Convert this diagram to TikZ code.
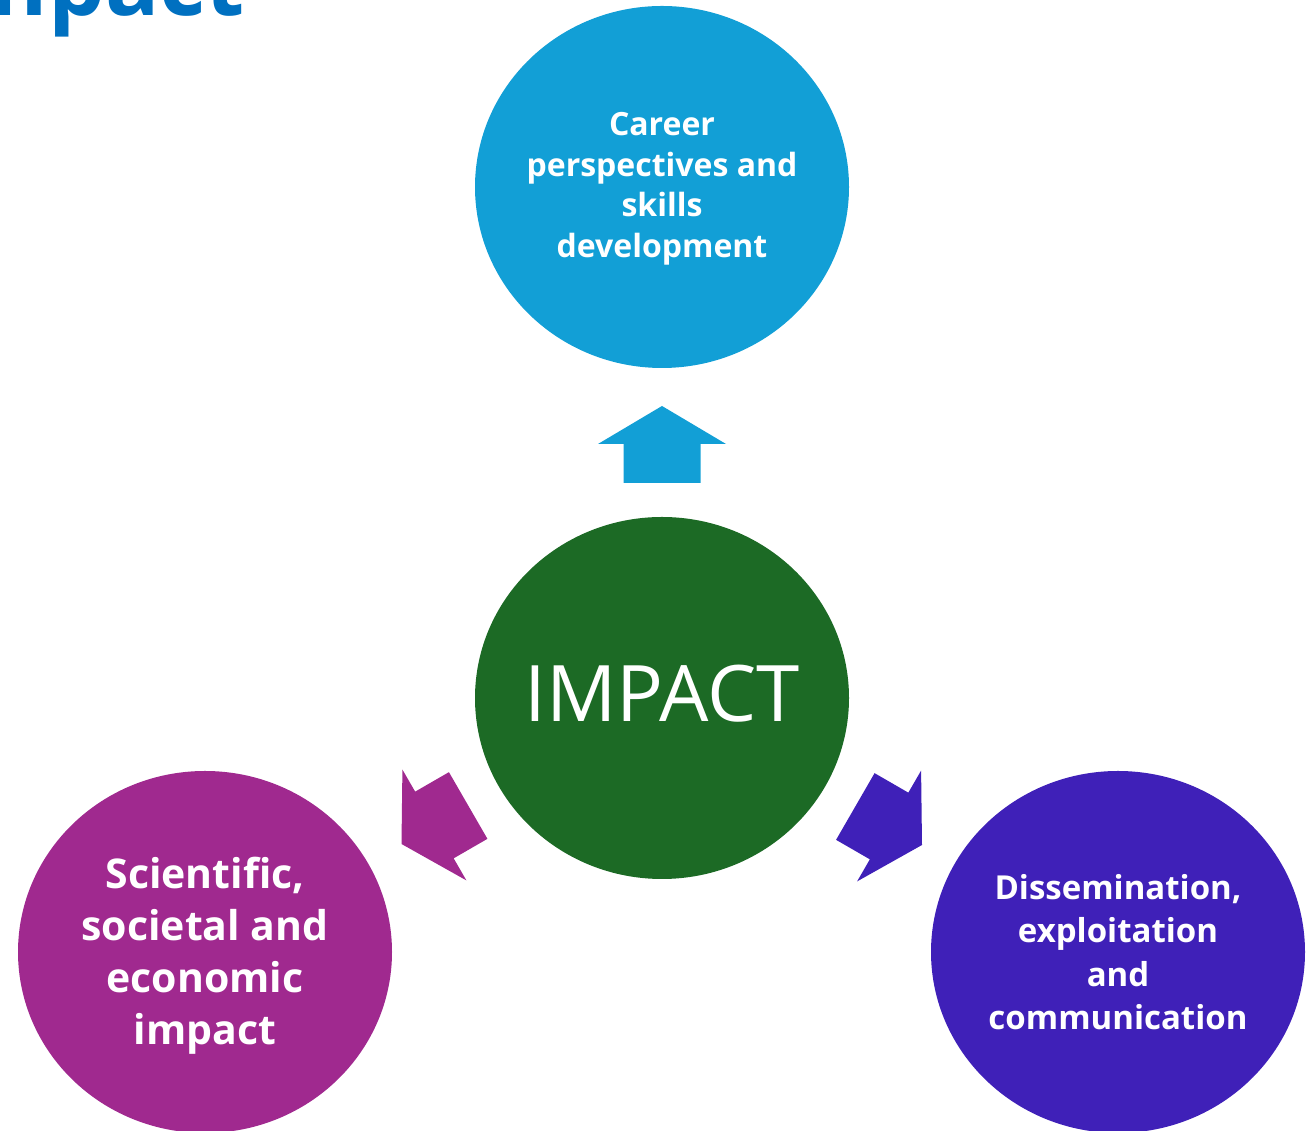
\documentclass[tikz,border=0pt]{standalone}
\usepackage{fontspec}
\setmainfont{Open Sans}
\definecolor{ctop}{RGB}{18,159,214}
\definecolor{cmid}{RGB}{28,106,37}
\definecolor{cleft}{RGB}{160,41,143}
\definecolor{cright}{RGB}{63,32,184}
\definecolor{ctitle}{RGB}{0,112,192}
\begin{document}
\begin{tikzpicture}[x=1pt,y=1pt,
  btext/.style={text=white, align=center, font=\bfseries},
  blockarrow/.pic={\fill (0,0) -- (64,-38) -- (38.5,-38) -- (38.5,-77) -- (-38.5,-77) -- (-38.5,-38) -- (-64,-38) -- cycle;}
]
\useasboundingbox (0,0) rectangle (1309,1131);
\clip (0,0) rectangle (1309,1131);
\fill[ctop] (662,944) ellipse [x radius=187, y radius=181];
\fill[cmid] (662,433) ellipse [x radius=187, y radius=181];
\fill[cleft] (205,179) ellipse [x radius=187, y radius=181];
\fill[cright] (1118,179) ellipse [x radius=187, y radius=181];
\node[btext, font=\bfseries\fontsize{32}{40.5}\selectfont] (top) at (662,942) {Career\\perspectives and\\skills\\development};
\node[text=white, font=\fontsize{78}{90}\selectfont] (mid) at (662,437) {IMPACT};
\node[btext, font=\bfseries\fontsize{41}{52}\selectfont] (left) at (205,175) {Scientific,\\societal and\\economic\\impact};
\node[btext, font=\bfseries\fontsize{33}{43.3}\selectfont] (right) at (1118,179) {Dissemination,\\exploitation\\and\\communication};
\pic[ctop] at (662,725) {blockarrow};
\pic[cleft, rotate=120] at (401.5,287) {blockarrow};
\pic[cright, rotate=-120] at (922,286) {blockarrow};
\node[anchor=base east, text=ctitle, font=\bfseries\fontsize{90}{96}\selectfont, inner sep=0pt] (title) at (245,1115) {Impact};
\end{tikzpicture}
\end{document}
